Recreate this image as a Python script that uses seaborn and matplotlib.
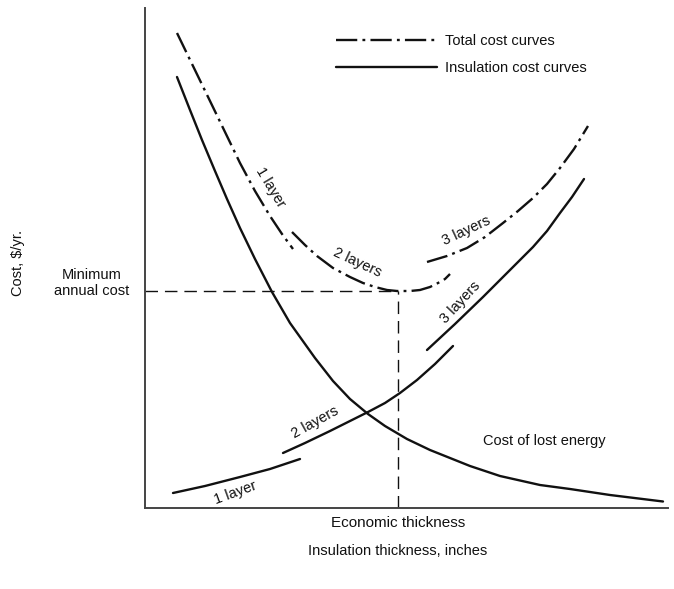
import matplotlib
matplotlib.use("Agg")
import matplotlib.pyplot as plt
from matplotlib.lines import Line2D
import seaborn as sns

sns.set_style("white")
plt.rcParams["font.family"] = ["Liberation Sans", "DejaVu Sans"]
plt.rcParams["text.color"] = "#111111"

# Insulation thickness (arbitrary units) and annual cost (arbitrary units)
lost_energy_x = [32, 45, 57, 70, 82, 95, 110, 127, 145, 170, 188, 205, 223, 240, 262, 285,
                 325, 355, 395, 425, 465, 518]
lost_energy_y = [431, 398, 368, 337, 309, 280, 249, 216, 185, 150, 127, 109, 94, 82, 69, 58,
                 42, 32, 23, 19, 13, 6.5]

total_1_x = [32, 48, 65, 80, 95, 110, 125, 137, 148]
total_1_y = [475, 442, 407, 376, 345, 317, 292, 274, 259]
total_2_x = [147, 160, 172, 188, 205, 218, 230, 242, 252, 265, 275, 285, 293, 300, 305]
total_2_y = [276, 263, 252, 240, 231, 225, 221, 218, 217, 217, 218, 221, 225, 229, 234]
total_3_x = [282, 302, 322, 340, 358, 373, 388, 402, 415, 429, 443]
total_3_y = [246, 252, 260, 271, 285, 297, 310, 324, 340, 359, 382]

insul_1_x = [28, 60, 95, 125, 155]
insul_1_y = [15, 22, 31, 39, 49]
insul_2_x = [138, 160, 185, 205, 223, 240, 255, 272, 290, 308]
insul_2_y = [55, 65, 77, 87, 96, 105, 115, 128, 144, 162]
insul_3_x = [282, 310, 338, 363, 388, 402, 415, 427, 439]
insul_3_y = [158, 184, 211, 236, 261, 277, 295, 311, 329]

# Minimum of the total cost curve
optimum_x = 253
optimum_y = 217

layer_labels = ["1 layer", "2 layers", "3 layers"]
legend_labels = ["Total cost curves", "Insulation cost curves"]

W, H, DPI = 674, 589, 100
fig = plt.figure(figsize=(W / DPI, H / DPI), dpi=DPI)
ax = fig.add_axes([145 / W, (H - 508) / H, (668 - 145) / W, 500 / H])
ax.set_xlim(0, 523)
ax.set_ylim(0, 500)

ink = "#111111"
lw = 1.7
dashdot = (0, (9, 2.2, 1.2, 2.2))

for xs, ys in [(total_1_x, total_1_y), (total_2_x, total_2_y), (total_3_x, total_3_y)]:
    sns.lineplot(x=xs, y=ys, sort=False, color=ink, lw=lw, linestyle=dashdot, ax=ax)

for xs, ys in [(insul_1_x, insul_1_y), (insul_2_x, insul_2_y), (insul_3_x, insul_3_y),
               (lost_energy_x, lost_energy_y)]:
    sns.lineplot(x=xs, y=ys, sort=False, color=ink, lw=lw, ax=ax)

# Guides to the economic thickness and minimum annual cost
ax.plot([0, optimum_x], [optimum_y, optimum_y], color=ink, lw=1.0, linestyle=(0, (9, 5)))
ax.plot([optimum_x, optimum_x], [0, optimum_y], color=ink, lw=1.0, linestyle=(0, (9, 5)))

fs = 10.5
curve_labels = [
    (125, 321, layer_labels[0], -59),
    (212, 245, layer_labels[1], -25),
    (321, 277, layer_labels[2], 25),
    (315, 206, layer_labels[2], 47),
    (170, 86, layer_labels[1], 29),
    (90, 15, layer_labels[0], 20),
]
for x, y, label, rot in curve_labels:
    ax.text(x, y, label, rotation=rot, ha="center", va="center", fontsize=fs,
            rotation_mode="anchor")
ax.text(399, 67, "Cost of lost energy", ha="center", va="center", fontsize=fs)

handles = [Line2D([], [], color=ink, lw=lw, linestyle=dashdot),
           Line2D([], [], color=ink, lw=lw)]
ax.legend(handles, legend_labels, loc="upper left", bbox_to_anchor=(336 / W, 1 - 34 / H),
          bbox_transform=fig.transFigure, frameon=False, fontsize=fs,
          handlelength=6.9, handletextpad=0.55, labelspacing=0.9,
          borderpad=0, borderaxespad=0)

# Axis annotations
ax.set_xticks([])
ax.set_yticks([])
fig.text(92 / W, 1 - 283 / H, "Minimum\nannual cost", ha="center", va="center",
         fontsize=fs, linespacing=1.1)
fig.text(398 / W, 1 - 523 / H, "Economic thickness", ha="center", va="center",
         fontsize=11)
fig.text(398 / W, 1 - 551 / H, "Insulation thickness, inches", ha="center", va="center",
         fontsize=fs)
fig.text(18 / W, 1 - 263 / H, "Cost, $/yr.", rotation=90, ha="center", va="center",
         fontsize=fs)

sns.despine(ax=ax)
for side in ["left", "bottom"]:
    ax.spines[side].set_color("#444444")
    ax.spines[side].set_linewidth(1.4)

fig.savefig("out.png", dpi=DPI, facecolor="white")
